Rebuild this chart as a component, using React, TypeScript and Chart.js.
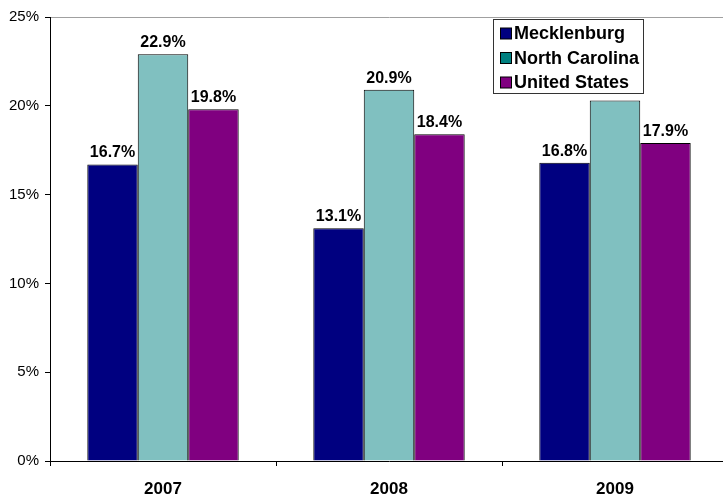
import React, { useEffect, useRef } from "react";
import { Chart, registerables } from "chart.js";

Chart.register(...registerables);

const years = ["2007", "2008", "2009"];
const seriesNames = ["Mecklenburg", "North Carolina", "United States"];
const mecklenburg = [16.7, 13.1, 16.8];
const northCarolina = [22.9, 20.9, 20.3];
const unitedStates = [19.8, 18.4, 17.9];
const mecklenburgLabels = ["16.7%", "13.1%", "16.8%"];
const northCarolinaLabels = ["22.9%", "20.9%", ""];
const unitedStatesLabels = ["19.8%", "18.4%", "17.9%"];
const yMin = 0;
const yMax = 25;
const yStep = 5;

const barColors = ["#000080", "#80C0C0", "#800080"];
const legendColors = ["#000080", "#008080", "#800080"];
const FONT = '"Liberation Sans", Arial, sans-serif';

const valueLabelPlugin = {
  id: "valueLabels",
  afterDatasetsDraw(chart: any) {
    const ctx = chart.ctx;
    const allLabels = [mecklenburgLabels, northCarolinaLabels, unitedStatesLabels];
    ctx.save();
    ctx.font = `bold 16px ${FONT}`;
    ctx.fillStyle = "#000";
    ctx.textAlign = "center";
    ctx.textBaseline = "alphabetic";
    chart.data.datasets.forEach((_ds: any, i: number) => {
      const meta = chart.getDatasetMeta(i);
      meta.data.forEach((el: any, j: number) => {
        const t = allLabels[i][j];
        if (!t) return;
        ctx.fillText(t, el.x, el.y - 7);
      });
    });
    ctx.restore();
  },
};

const boxLegendPlugin = {
  id: "boxLegend",
  afterDraw(chart: any) {
    const ctx = chart.ctx;
    const bx = 493.5, by = 19.5, bw = 150, bh = 74;
    ctx.save();
    ctx.fillStyle = "#fff";
    ctx.fillRect(bx, by, bw, bh);
    ctx.strokeStyle = "#333";
    ctx.lineWidth = 1;
    ctx.strokeRect(bx, by, bw, bh);
    ctx.font = `bold 18px ${FONT}`;
    ctx.textBaseline = "middle";
    ctx.textAlign = "left";
    chart.data.datasets.forEach((ds: any, i: number) => {
      const cy = 33.5 + i * 24.5;
      ctx.fillStyle = legendColors[i];
      ctx.fillRect(500.5, cy - 5.5, 11, 11);
      ctx.strokeStyle = "#000";
      ctx.strokeRect(500.5, cy - 5.5, 11, 11);
      ctx.fillStyle = "#000";
      ctx.fillText(ds.label, 514, cy + 1);
    });
    ctx.restore();
  },
};

export default function App() {
  const ref = useRef<HTMLCanvasElement | null>(null);
  useEffect(() => {
    if (!ref.current) return;
    const chart = new Chart(ref.current, {
      type: "bar",
      data: {
        labels: years,
        datasets: [
          { label: seriesNames[0], data: mecklenburg, backgroundColor: barColors[0] },
          { label: seriesNames[1], data: northCarolina, backgroundColor: barColors[1] },
          { label: seriesNames[2], data: unitedStates, backgroundColor: barColors[2] },
        ].map((d) => ({
          ...d,
          borderColor: "#000",
          borderWidth: 1,
          categoryPercentage: 0.67,
          barPercentage: 1,
        })),
      },
      options: {
        responsive: false,
        animation: false,
        layout: { padding: { top: 17, left: 0, right: 0, bottom: 0 } },
        plugins: { legend: { display: false }, tooltip: { enabled: false } },
        scales: {
          x: {
            grid: {
              display: true,
              drawOnChartArea: false,
              drawTicks: true,
              tickLength: 5,
              color: "#000",
              offset: true,
            },
            border: { display: true, color: "#000", width: 1 },
            ticks: {
              color: "#000",
              font: { family: FONT, size: 17, weight: "bold" },
              padding: 13,
              maxRotation: 0,
            },
            afterFit(scale: any) {
              scale.height = 35;
            },
          },
          y: {
            min: yMin,
            max: yMax,
            grid: {
              display: true,
              drawOnChartArea: true,
              drawTicks: true,
              tickLength: 5,
              color: (c: any) => (c.tick && c.tick.value === yMax ? "#a0a0a0" : "rgba(0,0,0,0)"),
              tickColor: "#000",
            },
            border: { display: true, color: "#000", width: 1 },
            ticks: {
              stepSize: yStep,
              color: "#000",
              font: { family: FONT, size: 15 },
              padding: 6,
              callback: (v: any) => `${v}%`,
            },
            afterFit(scale: any) {
              scale.width = 50;
            },
          },
        },
      },
      plugins: [valueLabelPlugin, boxLegendPlugin],
    });
    return () => chart.destroy();
  }, []);

  return (
    <div
      style={{
        position: "fixed",
        left: 0,
        top: 0,
        width: 723,
        height: 496,
        overflow: "hidden",
        background: "#fff",
      }}
    >
      <canvas ref={ref} width={728} height={496} style={{ width: 728, height: 496, display: "block" }} />
    </div>
  );
}
